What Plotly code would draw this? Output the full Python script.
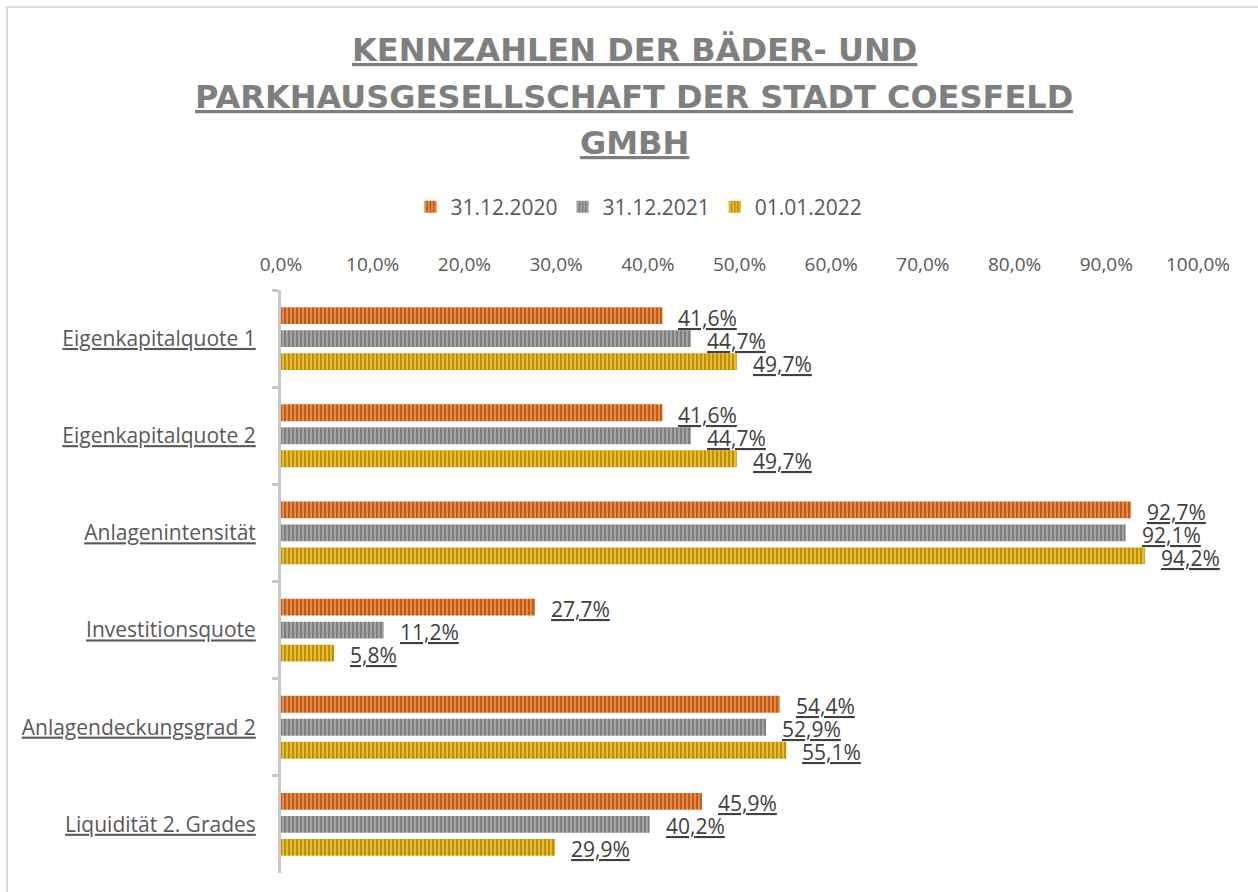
import plotly.graph_objects as go

categories = ["Eigenkapitalquote 1", "Eigenkapitalquote 2", "Anlagenintensität",
              "Investitionsquote", "Anlagendeckungsgrad 2", "Liquidität 2. Grades"]
series_names = ["31.12.2020", "31.12.2021", "01.01.2022"]
values_2020 = [41.6, 41.6, 92.7, 27.7, 54.4, 45.9]
values_2021 = [44.7, 44.7, 92.1, 11.2, 52.9, 40.2]
values_2022 = [49.7, 49.7, 94.2, 5.8, 55.1, 29.9]
title_lines = ["KENNZAHLEN DER BÄDER- UND",
               "PARKHAUSGESELLSCHAFT DER STADT COESFELD",
               "GMBH"]

W, H = 1258, 892
L, R, T, B = 281, 1198, 290, 873


def px(xp):
    return (xp - L) / (R - L)


def py(yp):
    return (B - yp) / (B - T)


FONT = "Open Sans"
TXT = "#595959"
series = [values_2020, values_2021, values_2022]
bg = ["#C55A11", "#7F7F7F", "#BF9000"]
fg = ["#F4B183", "#BFBFBF", "#FFD966"]

fig = go.Figure()
for name, vals, c, f in zip(series_names, series, bg, fg):
    fig.add_trace(go.Bar(
        name=name, y=categories, x=vals, orientation="h",
        marker=dict(color=c, line=dict(width=0),
                    pattern=dict(shape="|", fgcolor=f, size=4, solidity=0.35,
                                 fgopacity=0.8)),
        cliponaxis=False,
    ))

annotations = []
for i, vals in enumerate(series):
    for cat, v in zip(categories, vals):
        annotations.append(dict(
            x=v, y=cat, xref="x", yref="y", xanchor="left", yanchor="middle",
            xshift=14, yshift=(1 - i) * 23 - 2, showarrow=False,
            text=f"{v:.1f}".replace(".", ",") + "%",
            font=dict(family=FONT, size=21, color="#404040", lineposition="under"),
        ))

for k, (line, yc) in enumerate(zip(title_lines, [50, 97, 143])):
    annotations.append(dict(
        x=px(634), y=py(yc), xref="paper", yref="paper", xanchor="center",
        yanchor="middle", showarrow=False, text=line,
        font=dict(family="DejaVu Sans", size=32, color="#7F7F7F", weight="bold",
                  lineposition="under"),
    ))

fig.update_layout(
    width=W, height=H,
    margin=dict(l=L, r=W - R, t=T, b=H - B, autoexpand=False),
    paper_bgcolor="white", plot_bgcolor="white",
    barmode="group", bargap=0.29, bargroupgap=0.27,
    separators=",.",
    font=dict(family=FONT, size=19, color=TXT),
    showlegend=True,
    legend=dict(orientation="h", x=px(639), xanchor="center", y=py(207),
                yanchor="middle", font=dict(family=FONT, size=21, color=TXT),
                itemwidth=30, tracegroupgap=0),
    xaxis=dict(side="top", range=[0, 100], dtick=10, tick0=0, tickformat=".1f",
               ticksuffix="%", showgrid=False, zeroline=False, showline=False,
               ticks="", ticklabelstandoff=14,
               tickfont=dict(family=FONT, size=19, color=TXT)),
    yaxis=dict(type="category", autorange="reversed", showgrid=False,
               zeroline=False, showline=True, linecolor="#C8C8C8", linewidth=3,
               ticks="outside", tickson="boundaries", ticklen=6,
               tickcolor="#C8C8C8", tickwidth=3, ticklabelstandoff=18,
               tickfont=dict(family=FONT, size=21, color=TXT,
                             lineposition="under")),
    annotations=annotations,
    shapes=[dict(type="rect", xref="paper", yref="paper",
                 x0=px(7), y0=py(7), x1=px(W + 20), y1=py(H + 20),
                 line=dict(color="#D9D9D9", width=2), fillcolor="rgba(0,0,0,0)",
                 layer="below")],
)

fig.write_html("out.html", config={"displayModeBar": False},
               post_script="document.body.style.margin='0';")
